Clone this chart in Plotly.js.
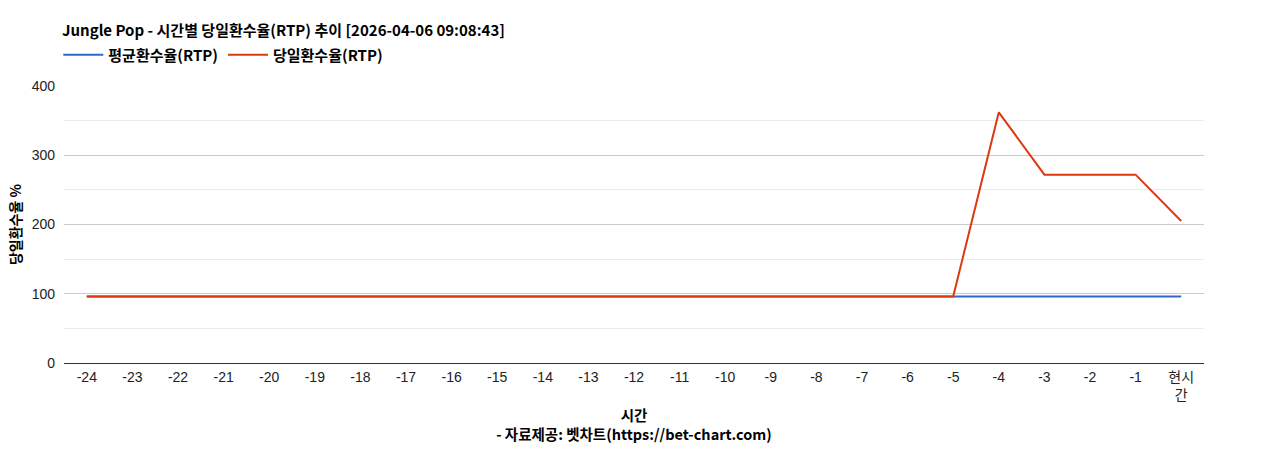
<!DOCTYPE html>
<html>
<head>
<meta charset="utf-8">
<script src="https://cdn.plot.ly/plotly-3.0.1.min.js"></script>
<style>
  html, body { margin: 0; padding: 0; background: #fff; }
</style>
</head>
<body>
<div id="chart" style="width:1268px;height:450px;"></div>
<script>
// hours before now, last one is "now"
var hours = ['-24','-23','-22','-21','-20','-19','-18','-17','-16','-15','-14','-13',
             '-12','-11','-10','-9','-8','-7','-6','-5','-4','-3','-2','-1','현시<br>간'];

var avgRtp = [96,96,96,96,96,96,96,96,96,96,96,96,
              96,96,96,96,96,96,96,96,96,96,96,96,96];

var dayRtp = [96,96,96,96,96,96,96,96,96,96,96,96,
              96,96,96,96,96,96,96,96,362,272,272,272,205];

var yTicks = [0, 100, 200, 300, 400];

var titleFont = '"Noto Sans CJK KR", "Liberation Sans", sans-serif';
var tickFont = '"Liberation Sans", Arial, "Noto Sans CJK KR", sans-serif';

var avgTrace = {
    x: hours,
    y: avgRtp,
    name: '<b>평균환수율(RTP)</b>',
    type: 'scatter',
    mode: 'lines',
    line: {color: '#3366cc', width: 2}
};

var dayTrace = {
    x: hours,
    y: dayRtp,
    name: '<b>당일환수율(RTP)</b>',
    type: 'scatter',
    mode: 'lines',
    line: {color: '#dc3912', width: 2}
};

var layout = {
    width: 1268,
    height: 450,
    margin: {l: 64, r: 64, t: 86, b: 87},
    paper_bgcolor: '#fff',
    plot_bgcolor: '#fff',
    font: {family: tickFont, size: 14, color: '#222'},
    title: {
        text: '<b>Jungle Pop - 시간별 당일환수율(RTP) 추이 [2026-04-06 09:08:43]</b>',
        font: {family: titleFont, size: 15, color: '#000'},
        x: 62 / 1268, xanchor: 'left', xref: 'container',
        y: 1 - 31 / 450, yanchor: 'middle', yref: 'container'
    },
    showlegend: true,
    legend: {
        orientation: 'h',
        x: -0.005, xanchor: 'left',
        y: 1 + 31 / 277, yanchor: 'middle',
        font: {family: titleFont, size: 15, color: '#000'},
        itemwidth: 40,
        tracegroupgap: 0
    },
    xaxis: {
        type: 'category',
        range: [-0.5, hours.length - 0.5],
        showgrid: false,
        showline: false,
        ticks: '',
        ticklabelstandoff: 4,
        tickfont: {family: tickFont, size: 14, color: '#222'},
        title: {
            text: '<b>시간</b><br><b>- 자료제공: 벳차트(https://bet-chart.com)</b>',
            font: {family: titleFont, size: 14.5, color: '#000'},
            standoff: 8
        },
        fixedrange: true
    },
    yaxis: {
        range: [0, 400],
        tickvals: yTicks,
        gridcolor: '#cccccc',
        zeroline: true,
        zerolinecolor: '#333333',
        zerolinewidth: 1,
        ticks: '',
        ticklabelstandoff: 8,
        tickfont: {family: tickFont, size: 14, color: '#222'},
        minor: {dtick: 50, showgrid: true, gridcolor: '#ebebeb', gridwidth: 1},
        title: {
            text: '<b>당일환수율 %</b>',
            font: {family: titleFont, size: 14, color: '#000'},
            standoff: 6
        },
        fixedrange: true
    },
    hovermode: false
};

Plotly.newPlot('chart', [avgTrace, dayTrace], layout, {displayModeBar: false, displaylogo: false});
</script>
</body>
</html>
